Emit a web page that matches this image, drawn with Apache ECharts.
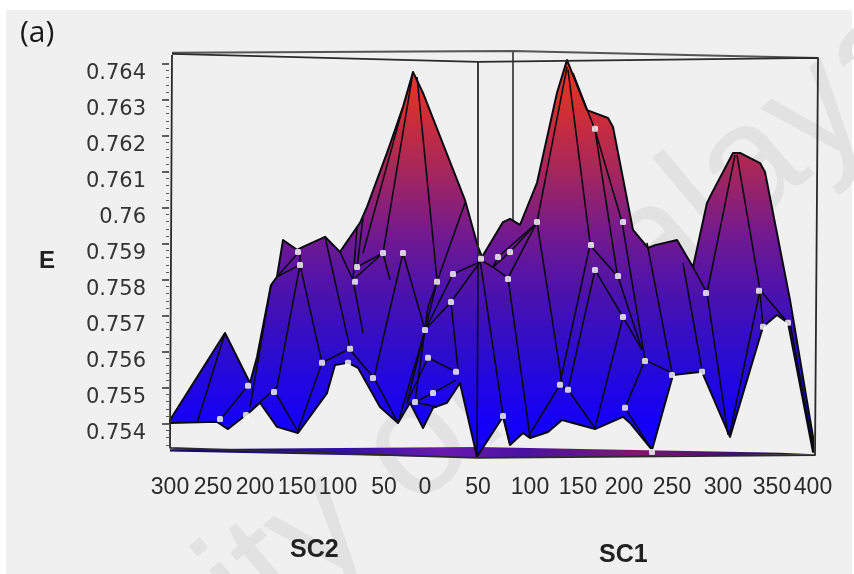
<!DOCTYPE html>
<html><head><meta charset="utf-8">
<style>html,body{margin:0;padding:0;background:#fff}#c{width:854px;height:574px}</style>
<script src="https://cdn.jsdelivr.net/npm/echarts@6/dist/echarts.min.js"></script>
</head><body><div id="c"></div>
<script>
// Horizontal axis is the view position along the two floor edges, 0 at the front corner.
const sc2Labels = ['300','250','200','150','100','50','0'];
const sc2Pos = [-305,-262,-220,-178,-137,-91,-50];
const sc1Labels = ['50','100','150','200','250','300','350','400'];
const sc1Pos = [3,55,103,149,197,248,297,338];
const eTicks = [0.754,0.755,0.756,0.757,0.758,0.759,0.76,0.761,0.762,0.763,0.764];

const topProfile = [[-305,.75409],[-250,.75651],[-225,.75512],[-218,.75584],[-204,.75784],[-198,.75807],[-192,.75909],[-178,.75882],[-172,.7589],[-150,.75918],[-135,.75876],[-115,.75957],[-108,.76001],[-87,.76159],[-72,.76279],[-62,.76376],[-52,.76318],[-10,.7602],[3,.7589],[7,.75862],[28,.75959],[35,.75968],[45,.75951],[62,.76068],[82,.76318],[92,.76409],[112,.7627],[133,.76248],[138,.76223],[158,.75937],[173,.75887],[180,.75895],[202,.75909],[218,.75834],[232,.76012],[237,.7604],[258,.76151],[265,.76151],[285,.76123],[290,.76098],[315,.75743],[338,.75362],[338,.7532]];
const bottomProfile = [[-305,.75401],[-258,.75404],[-247,.75384],[-225,.75432],[-215,.75457],[-198,.7539],[-177,.75373],[-148,.75484],[-140,.75562],[-127,.75568],[-117,.75554],[-95,.75445],[-77,.75401],[-65,.75457],[-52,.75387],[-42,.75443],[-28,.75457],[-15,.75512],[2,.75307],[28,.75418],[35,.7534],[48,.75373],[55,.75359],[73,.75376],[87,.75409],[120,.75384],[148,.75418],[155,.75401],[177,.75326],[198,.75534],[227,.75543],[255,.75362],[288,.75668],[302,.75701],[313,.75679],[338,.7532]];
const floorBand = [[-305,.75328],[2,.75334],[305,.75318],[340,.75314],[2,.75304],[-305,.75322]];

const meshLines = [
[[-250,.75651],[-278,.75401]],[[-228,.75501],[-255,.75409]],[[-198,.75807],[-177,.75873]],[[-198,.75807],[-175,.7584]],
[[-204,.75784],[-225,.75445]],[[-175,.7584],[-198,.75501],[-229,.75423]],[[-175,.75873],[-175,.7584],[-153,.75568]],
[[-150,.75918],[-125,.75609]],[[-153,.75568],[-178,.75373]],[[-153,.75568],[-125,.75607]],[[-200,.75487],[-178,.75382]],
[[-135,.75876],[-122,.75798],[-112,.75651]],[[-118,.75945],[-122,.75798]],[[-112,.7597],[-118,.75834]],[[-118,.75834],[-92,.75873]],
[[-122,.75798],[-92,.75873]],[[-92,.75873],[-85,.75798]],[[-62,.76376],[-92,.75873]],[[-72,.76279],[-112,.75873]],[[-58,.76362],[-38,.75798]],
[[-72,.75873],[-101,.75526]],[[-72,.75873],[-50,.75659]],[[-101,.75526],[-77,.75401]],[[-125,.75604],[-101,.75526]],[[-38,.75793],[-68,.75457]],
[[-10,.76012],[-47,.75723],[-60,.75459]],[[-22,.75815],[-50,.75659]],[[5,.75848],[-24,.75737],[-50,.75659]],[[5,.75848],[-22,.75815]],
[[-24,.75737],[-17,.75548]],[[-47,.75582],[-68,.75457]],[[-47,.75582],[-19,.75543]],[[-19,.7552],[-42,.75484],[-60,.75459]],[[-60,.75459],[-38,.75445]],
[[-50,.75659],[-77,.75401]],[[3,.75854],[2,.75307]],[[5,.75854],[28,.75423]],[[33,.75804],[55,.75362]],[[5,.75854],[18,.75834],[33,.75804]],
[[18,.75834],[35,.75876],[62,.75957]],[[23,.75862],[62,.75957]],[[18,.75834],[23,.75862]],[[62,.75959],[33,.75804]],[[62,.75959],[87,.75512]],
[[92,.7639],[62,.75959]],[[93,.76382],[115,.75901]],[[98,.76373],[120,.76215],[142,.75818]],[[120,.76215],[147,.75959]],[[115,.75895],[85,.75512]],
[[120,.75826],[93,.75493]],[[115,.75895],[143,.75807]],[[120,.75826],[148,.75695]],[[143,.75807],[167,.75604]],[[147,.75959],[170,.75576]],
[[172,.75901],[197,.7554]],[[148,.75695],[120,.75387]],[[148,.75695],[167,.75604]],[[170,.75576],[150,.75443]],[[170,.75576],[197,.7554]],
[[150,.75443],[177,.75326]],[[85,.75507],[53,.75362]],[[93,.75493],[120,.75387]],[[85,.75507],[93,.75493]],[[208,.75845],[227,.75548]],
[[232,.75762],[253,.75368]],[[260,.76145],[232,.75762]],[[262,.76145],[285,.7577]],[[285,.7577],[255,.75373]],[[218,.75834],[232,.75762]],
[[285,.75762],[288,.75668]],[[285,.7577],[313,.75679]],[[315,.75679],[338,.75334]],[[28,.75423],[35,.7534]]
];
const meshDots = [[-118,.75834],[-92,.75873],[-72,.75873],[-120,.75793],[-38,.75793],[-22,.75815],[-24,.75737],[-50,.75659],[-47,.75582],[-19,.75543],[-42,.75484],[-60,.75459],[-102,.75526],[-125,.75607],[-153,.75568],[-127,.75568],[-201,.75487],[-227,.75504],[-229,.75423],[-255,.75412],[-175,.7584],[-177,.75876],[6,.75857],[23,.75862],[35,.75876],[33,.75801],[62,.75959],[120,.76218],[148,.75959],[116,.75895],[120,.75826],[143,.75809],[148,.75695],[170,.75573],[85,.75507],[93,.75493],[28,.7542],[150,.75443],[177,.7532],[231,.75762],[284,.75768],[288,.75668],[313,.75679],[227,.75543],[197,.75534]];

const backFrame = [
[[-303,.76429],[38,.76434],[343,.76415]],
[[38,.76434],[38,.75959]]
];
const frontFrame = [
[[-303,.76423],[-305,.75332],[2,.75304],[340,.75312],[343,.76415],[3,.76404],[-303,.76426]],
[[3,.76404],[3,.75854]]
];

const minorTicks = [];
for (let k = 0; k <= 53; k++) minorTicks.push(+(0.7534 + k * 0.0002).toFixed(4));
const xTicks = sc2Pos.concat(sc1Pos);
const xText = sc2Labels.concat(sc1Labels);

const chart = echarts.init(document.getElementById('c'), null, {renderer:'canvas'});
const DARK = '#0b0a12';

function poly(api, pts){ return pts.map(p => api.coord(p)); }
function lineSeries(name, lines, color, width, z){
  return {
    name, type:'custom', coordinateSystem:'cartesian2d', z, silent:true, clip:false,
    data: lines.map((l,i)=>[l[0][0], l[0][1], i]),
    renderItem(params, api){
      return {type:'polyline', shape:{points:poly(api, lines[params.dataIndex])},
        style:{stroke:color, lineWidth:width, fill:null, lineJoin:'round'}};
    }
  };
}
const option = {
  animation:false,
  backgroundColor:'#ffffff',
  graphic:[
    {type:'rect', z:-10, silent:true, shape:{x:6,y:10,width:846,height:564}, style:{fill:'#f0f0f0'}},
    {type:'text', z:-9, silent:true, x:915, y:31, rotation:0.698,
      style:{text:'University of Malaya', x:0, y:0, align:'right', verticalAlign:'middle', font:'160px "Liberation Sans"', fill:'#e2e2e2'}}
  ],
  title:[
    {text:'(a)', left:15, top:13, textStyle:{fontFamily:'"Open Sans"', fontSize:30, fontWeight:'normal', color:'#1a1a1a'}},
    {text:'E', left:34, top:244, textStyle:{fontFamily:'"Liberation Sans"', fontSize:24, fontWeight:'bold', color:'#222'}},
    {text:'SC2', left:285, top:533, textStyle:{fontFamily:'"Liberation Sans"', fontSize:25, fontWeight:'bold', color:'#222'}},
    {text:'SC1', left:594, top:538, textStyle:{fontFamily:'"Liberation Sans"', fontSize:25, fontWeight:'bold', color:'#222'}}
  ],
  grid:{left:169, right:8, top:45.3, height:414, containLabel:false},
  xAxis:{type:'value', min:-306, max:371, splitLine:{show:false}, axisLine:{show:false}, axisTick:{show:false},
    axisLabel:{customValues:xTicks, margin:17, fontFamily:'"Liberation Sans"', fontSize:23, color:'#2a2a2a',
      formatter:v=>xText[xTicks.indexOf(v)]}},
  yAxis:[
    {type:'value', position:'left', min:0.753, max:0.7645, splitLine:{show:false}, axisLine:{show:false,onZero:false},
     axisTick:{customValues:eTicks, length:7, lineStyle:{color:'#333',width:1.5}},
     axisLabel:{customValues:eTicks, margin:23, fontFamily:'"DejaVu Sans"', fontSize:21, color:'#333', verticalAlign:'top', lineHeight:20, formatter:v=>String(v)}},
    {type:'value', position:'left', min:0.753, max:0.7645, splitLine:{show:false}, axisLine:{show:false,onZero:false}, axisLabel:{show:false},
     axisTick:{customValues:minorTicks, length:3, lineStyle:{color:'#555',width:1}}}
  ],
  series:[
    lineSeries('back frame', backFrame, '#555', 2, 1),
    {name:'floor', type:'custom', coordinateSystem:'cartesian2d', z:2, silent:true, clip:false, data:[[0,.7533]],
      renderItem(params, api){
        const a=api.coord([-305,.7533]), b=api.coord([340,.7533]);
        return {type:'polygon', shape:{points:poly(api,floorBand)}, style:{fill:new echarts.graphic.LinearGradient(a[0],0,b[0],0,[
          {offset:0,color:'#14085a'},{offset:.25,color:'#2a10a0'},{offset:.42,color:'#6a1ab0'},{offset:.55,color:'#4a12a0'},{offset:.72,color:'#7a1a70'},{offset:1,color:'#14086a'}],true)}};
      }},
    {name:'surface', type:'custom', coordinateSystem:'cartesian2d', z:3, silent:true, clip:false, data:[[0,.76]],
      renderItem(params, api){
        const pts = poly(api, topProfile.concat(bottomProfile.slice().reverse()));
        const y0=api.coord([0,.7642])[1], y1=api.coord([0,.7540])[1];
        return {type:'polygon', shape:{points:pts}, style:{stroke:DARK, lineWidth:2, lineJoin:'round',
          fill:new echarts.graphic.LinearGradient(0,y0,0,y1,[
            {offset:0,color:'#f03a1e'},{offset:.12,color:'#d8302e'},{offset:.3,color:'#a82858'},{offset:.48,color:'#741a8e'},{offset:.65,color:'#4a12ae'},{offset:.82,color:'#2a0cd0'},{offset:1,color:'#1400f8'}],true)}};
      }},
    lineSeries('mesh', meshLines, DARK, 1.6, 4),
    lineSeries('front frame', frontFrame, '#2a2a2a', 1.8, 5),
    {name:'nodes', type:'scatter', data:meshDots, symbol:'roundRect', symbolSize:6, z:6, silent:true, clip:false, itemStyle:{color:'#ffffff'}}
  ]
};
chart.setOption(option);
</script></body></html>
